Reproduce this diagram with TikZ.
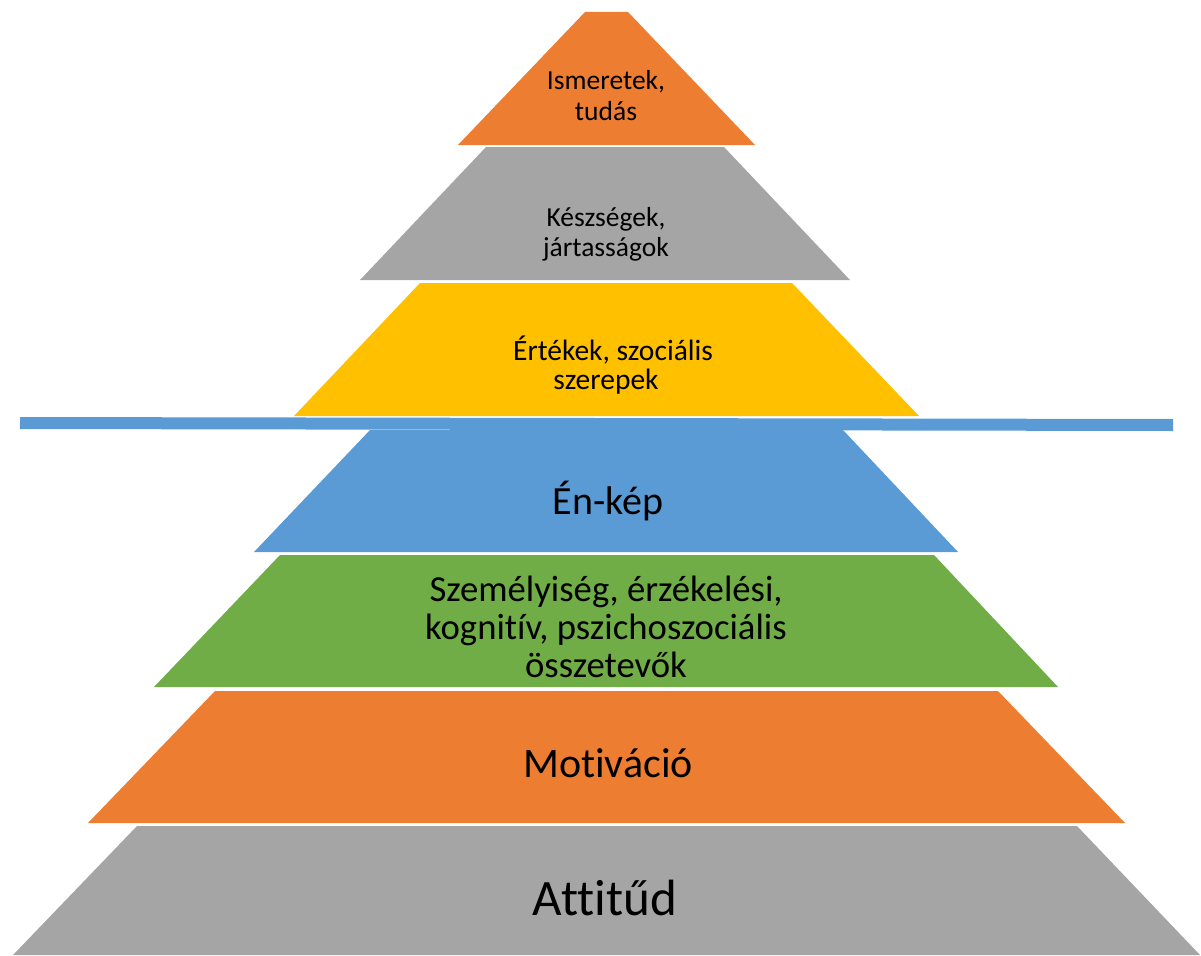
\documentclass[tikz,border=0pt]{standalone}
\usepackage{fontspec}
\setmainfont{Carlito}[Ligatures=NoCommon]
\definecolor{cOrange}{HTML}{ED7D31}
\definecolor{cGray}{HTML}{A5A5A5}
\definecolor{cYellow}{HTML}{FFC000}
\definecolor{cBlue}{HTML}{5B9BD5}
\definecolor{cGreen}{HTML}{70AD47}
\begin{document}
\begin{tikzpicture}[x=1pt,y=-1pt,
  layer/.style={fill=#1,draw=none},
  lbl/.style={anchor=base,text=black,inner sep=0pt},
  small/.style={lbl,font=\fontsize{27.5}{31}\selectfont},
  smallb/.style={lbl,font=\fontsize{29.5}{31}\selectfont},
  mid/.style={lbl,font=\fontsize{36.7}{38}\selectfont}]
\useasboundingbox (0,0) rectangle (1201,955);
% layers
\fill[layer=cOrange] (585,12) -- (628,12) -- (755,145) -- (458,145) -- cycle;
\fill[layer=cGray] (486,147) -- (724,147) -- (850,280) -- (360,280) -- cycle;
\fill[layer=cYellow] (420,283) -- (792,283) -- (919,416) -- (294,416) -- cycle;
\fill[layer=cBlue] (370,430) -- (843,430) -- (958,552) -- (254,552) -- cycle;
\fill[layer=cGreen] (280,555) -- (934,555) -- (1058,687) -- (154,687) -- cycle;
\fill[layer=cOrange] (215,691) -- (998,691) -- (1125,823) -- (88,823) -- cycle;
\fill[layer=cGray] (137,826) -- (1077,826) -- (1200,955) -- (13,955) -- cycle;
% line
\coordinate (l1) at (20,423);
\coordinate (l2) at (1173,425);
\draw[cBlue,line width=12pt] (l1) -- (l2);
% labels
\node[small] (t1a) at (606,90) {Ismeretek,};
\node[small] (t1b) at (606,121) {tudás};
\node[small] (t2a) at (606,226) {Készségek,};
\node[small] (t2b) at (606,256) {jártasságok};
\node[smallb] (t3a) at (613,360) {Értékek, szociális};
\node[smallb] (t3b) at (606,389) {szerepek};
\node[lbl,font=\fontsize{40}{48}\selectfont] (t4) at (608,514) {Én-kép};
\node[mid] (t5a) at (606,601) {Személyiség, érzékelési,};
\node[mid] (t5b) at (606,639) {kognitív, pszichoszociális};
\node[mid] (t5c) at (606,677) {összetevők};
\node[lbl,font=\fontsize{42}{50}\selectfont] (t6) at (608,777) {Motiváció};
\node[lbl,font=\fontsize{51}{60}\selectfont] (t7) at (605,915) {Attitűd};
\end{tikzpicture}
\end{document}
